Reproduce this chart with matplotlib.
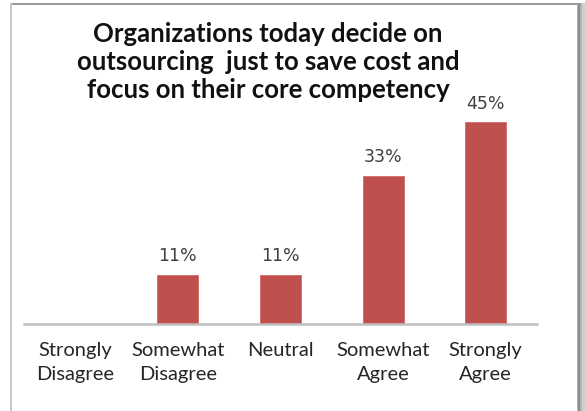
import matplotlib.pyplot as plt
from matplotlib.patches import Rectangle

categories = ["Strongly\nDisagree", "Somewhat\nDisagree", "Neutral", "Somewhat\nAgree", "Strongly\nAgree"]
values = [0, 11, 11, 33, 45]
labels = ["", "11%", "11%", "33%", "45%"]

W, H = 585, 411
fig = plt.figure(figsize=(W / 100, H / 100), dpi=100)
fig.patch.set_facecolor("white")

# frame around the chart: thin border on top/left, shadow on the right
bg = fig.add_axes([0, 0, 1, 1], zorder=-1)
bg.set_xlim(0, W)
bg.set_ylim(H, 0)
bg.axis("off")
bg.add_patch(Rectangle((10, 3), 567, 1.6, color="#9a9a9a", lw=0))
bg.add_patch(Rectangle((10, 3), 1.5, H, color="#c8c8c8", lw=0))
for x0, w, c in [(577, 1, "#b0b0b0"), (578, 2, "#8c8c8c"), (580, 2, "#b4b4b4"), (582, 3, "#cfcfcf")]:
    bg.add_patch(Rectangle((x0, 3), w, H, color=c, lw=0))

ax = fig.add_axes([24 / W, (H - 324) / H, 513 / W, 224 / H])
x = range(len(categories))
bars = ax.bar(x, values, width=0.4, color="#c0504d", edgecolor="#d46a67", linewidth=0.6)
for xi, v, t in zip(x, values, labels):
    if t:
        ax.text(xi, v + 4.2, t, ha="center", va="center", fontsize=12.5,
                color="#404040", family="DejaVu Sans", clip_on=False)

ax.set_xlim(-0.5, 4.5)
ax.set_ylim(0, 50)
ax.set_yticks([])
ax.set_xticks(list(x))
ax.set_xticklabels(categories, fontsize=14.5, color="#262626", family="Lato", linespacing=1.5)
ax.tick_params(axis="x", length=0, pad=13)
for s in ["top", "right", "left"]:
    ax.spines[s].set_visible(False)
ax.spines["bottom"].set_color("#bfbfbf")
ax.spines["bottom"].set_linewidth(1.8)

fig.text(268 / W, 1 - 62 / H,
         "Organizations today decide on\noutsourcing  just to save cost and\nfocus on their core competency",
         ha="center", va="center", fontsize=18.5, fontweight="bold", family="Lato",
         color="#111111", linespacing=1.2)

fig.savefig("out.png", dpi=100)
